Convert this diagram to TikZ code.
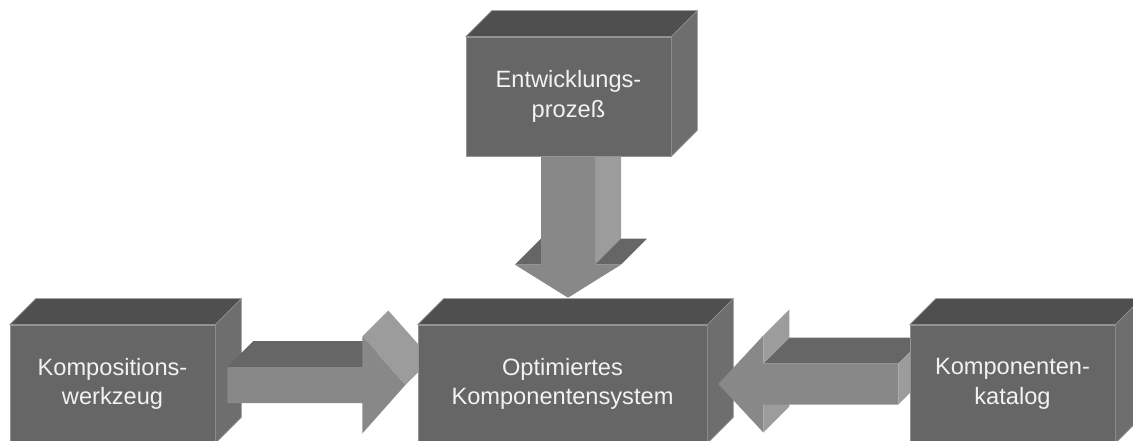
\documentclass[tikz,border=0pt]{standalone}
\usepackage{fontspec}
\setmainfont{Liberation Sans}
\usetikzlibrary{calc}

\definecolor{frontgray}{gray}{0.40}
\definecolor{topgray}{gray}{0.31}
\definecolor{sidegray}{gray}{0.43}
\definecolor{edgegray}{gray}{0.58}
\definecolor{arrowgray}{gray}{0.535}
\definecolor{lightgray}{gray}{0.61}
\definecolor{darkgray}{gray}{0.40}
\definecolor{labelgray}{gray}{0.95}

\tikzset{
  cube/.style={fill=frontgray, draw=edgegray, line width=0.4pt, text=labelgray,
    align=center, inner sep=0pt, minimum width=5.125cm, minimum height=2.95cm,
    font=\fontsize{16.8}{21}\selectfont},
  cubetop/.style={fill=topgray, draw=edgegray, line width=0.4pt},
  cubeside/.style={fill=sidegray, draw=edgegray, line width=0.4pt},
  arrowfront/.style={fill=arrowgray},
  arrowlight/.style={fill=lightgray},
  arrowdark/.style={fill=darkgray}
}

% top and right face of a box node, depth 26 units up and right
\newcommand\cubefaces[1]{%
  \filldraw[cubetop] (#1.north west) -- ++(26,-26) -- ([shift={(26,-26)}]#1.north east) -- (#1.north east) -- cycle;
  \filldraw[cubeside] (#1.north east) -- ++(26,-26) -- ([shift={(26,-26)}]#1.south east) -- (#1.south east) -- cycle;}

\begin{document}
\begin{tikzpicture}[x=0.025cm, y=-0.025cm]
  \useasboundingbox (0,0) rectangle (1133,441);
  \clip (0,0) rectangle (1133,441);

  % left box
  \node[cube] (komp) at (112.5,384) {Kompositions-\\werkzeug};
  \cubefaces{komp}

  % arrow from the left box
  \coordinate (lt) at ($(komp.east)+(12,1)$);
  \fill[arrowdark] (lt) ++(0,-18) -- ++(135,0) -- ++(26,-26) -- ++(-135,0) -- cycle;
  \fill[arrowlight] (lt) ++(135,-48.5) -- ++(43,48.5) -- ++(26,-26) -- ++(-43,-48.5) -- cycle;
  \fill[arrowfront] (lt) ++(0,-18) -- ++(135,0) -- ++(0,-30.5) -- ++(43,48.5)
    -- ++(-43,48.5) -- ++(0,-30.5) -- ++(-135,0) -- cycle;

  % middle box
  \node[cube, minimum width=7.225cm] (opt) at (562.5,384) {Optimiertes\\Komponentensystem};
  \cubefaces{opt}

  % arrow from the right box
  \coordinate (rt) at ($(opt.east)+(11,0)$);
  \fill[arrowdark] (rt) ++(45,-20.5) -- ++(135,0) -- ++(26,-26) -- ++(-135,0) -- cycle;
  \fill[arrowlight] (rt) ++(180,-20.5) -- ++(0,41) -- ++(26,-26) -- ++(0,-41) -- cycle;
  \fill[arrowlight] (rt) ++(45,-48.5) -- ++(0,28) -- ++(26,-26) -- ++(0,-28) -- cycle;
  \fill[arrowlight] (rt) ++(45,20.5) -- ++(0,28) -- ++(26,-26) -- ++(0,-28) -- cycle;
  \fill[arrowfront] (rt) -- ++(45,-48.5) -- ++(0,28) -- ++(135,0) -- ++(0,41)
    -- ++(-135,0) -- ++(0,28) -- cycle;

  % arrow from the top box
  \coordinate (dt) at ($(opt.north)+(5.5,-27)$);
  \fill[arrowlight] (dt) ++(27,-33) -- ++(0,-125) -- ++(26,-26) -- ++(0,125) -- cycle;
  \fill[arrowdark] (dt) ++(27,-33) -- ++(26,0) -- ++(26,-26) -- ++(-26,0) -- cycle;
  \fill[arrowdark] (dt) ++(-53,-33) -- ++(26,0) -- ++(26,-26) -- ++(-26,0) -- cycle;
  \fill[arrowfront] (dt) -- ++(53,-33) -- ++(-26,0) -- ++(0,-125) -- ++(-54,0)
    -- ++(0,125) -- ++(-26,0) -- cycle;

  % top box
  \node[cube, minimum height=2.975cm] (dev) at (568.5,96.5) {Entwicklungs-\\prozeß};
  \cubefaces{dev}

  % right box
  \node[cube] (kat) at (1012.5,384) {Komponenten-\\katalog};
  \cubefaces{kat}
\end{tikzpicture}
\end{document}
